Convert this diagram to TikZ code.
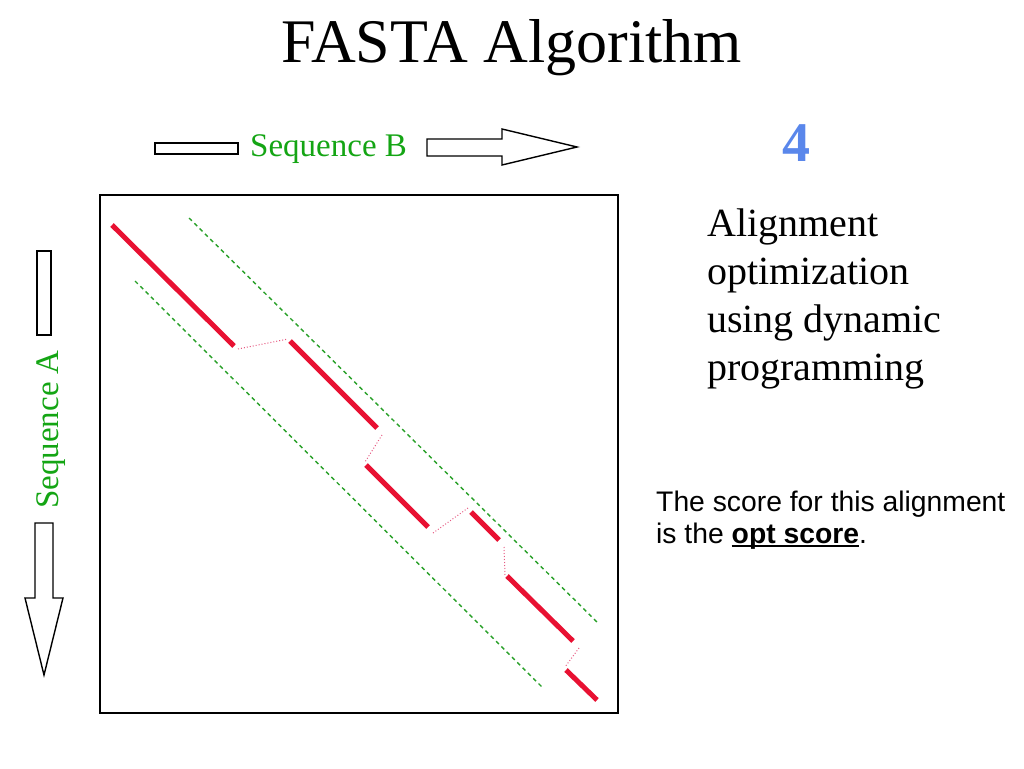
\documentclass[tikz,border=0pt]{standalone}
\usepackage{fontspec}
\setmainfont{Liberation Serif}
\newfontfamily\arialfont{Liberation Sans}
\definecolor{seqgreen}{RGB}{20,165,20}
\definecolor{pathred}{RGB}{232,17,50}
\definecolor{gapred}{RGB}{230,90,130}
\definecolor{bandgreen}{RGB}{40,160,40}
\definecolor{stepblue}{RGB}{90,135,235}
\newcommand\myul[1]{\setbox0\hbox{#1}\rlap{\rule[-4pt]{\wd0}{2.2pt}}\box0}
\tikzset{
  outline/.style={draw=black, line width=1.4pt, fill=white},
  seqlabel/.style={text=seqgreen, font=\fontsize{33}{40}\selectfont, inner sep=0pt},
  diagseg/.style={draw=pathred, line width=5pt},
  gapseg/.style={draw=gapred, line width=1pt, dotted},
  band/.style={draw=bandgreen, line width=1.4pt, dash pattern=on 4pt off 3.5pt},
  bodytext/.style={font=\fontsize{40}{48}\selectfont, inner sep=0pt, anchor=base west},
  notetext/.style={font=\arialfont\fontsize{28.3}{32}\selectfont, inner sep=0pt, anchor=base west}
}
\begin{document}
\begin{tikzpicture}[x=1pt,y=-1pt]
\useasboundingbox (0,0) rectangle (1024,768);
% title
\node[font=\fontsize{62}{74}\selectfont, inner sep=0pt, anchor=base] (title) at (511.5,63) {FASTA Algorithm};
% sequence B
\draw[outline] (155,143) rectangle (238,154);
\node[seqlabel, anchor=base west] (seqB) at (250,156) {Sequence B};
\draw[outline] (427,139) -- (502,139) -- (502,129) -- (577,147) -- (502,165) -- (502,156) -- (427,156) -- cycle;
% sequence A
\draw[outline] (37,251) rectangle (51,335);
\node[seqlabel, rotate=90, anchor=base] (seqA) at (58.5,429.5) {Sequence A};
\draw[outline] (35,523) -- (53,523) -- (53,598) -- (63,598) -- (44,675) -- (25,598) -- (35,598) -- cycle;
% matrix box
\draw[black, line width=1.4pt] (100,195) rectangle (618,713);
% band
\draw[band] (189,218) -- (598,623);
\draw[band] (135,281) -- (542,687);
% alignment path
\coordinate (a1) at (112,225); \coordinate (a2) at (234,346);
\coordinate (b1) at (290,341); \coordinate (b2) at (377,428);
\coordinate (c1) at (366,465); \coordinate (c2) at (428,527);
\coordinate (d1) at (471,512); \coordinate (d2) at (499,540);
\coordinate (e1) at (507,576); \coordinate (e2) at (573,641);
\coordinate (f1) at (566,670); \coordinate (f2) at (597,700);
\draw[diagseg] (a1) -- (a2);
\draw[diagseg] (b1) -- (b2);
\draw[diagseg] (c1) -- (c2);
\draw[diagseg] (d1) -- (d2);
\draw[diagseg] (e1) -- (e2);
\draw[diagseg] (f1) -- (f2);
\draw[gapseg] (238,349) -- (288,339);
\draw[gapseg] (382,435) -- (365,462);
\draw[gapseg] (433,533) -- (468,508);
\draw[gapseg] (504,547) -- (505,575);
\draw[gapseg] (579,648) -- (565,667);
% step number
\node[text=stepblue, font=\bfseries\fontsize{56}{66}\selectfont, inner sep=0pt, anchor=base] (num) at (796.5,161) {4};
% description
\node[bodytext] (l1) at (707,236) {Alignment};
\node[bodytext] (l2) at (707,284) {optimization};
\node[bodytext] (l3) at (707,332) {using dynamic};
\node[bodytext] (l4) at (707,380) {programming};
% note
\node[notetext] (n1) at (656,511) {The score for this alignment};
\node[notetext] (n2) at (656,543) {is the \myul{\bfseries opt score}.};
\end{tikzpicture}
\end{document}
